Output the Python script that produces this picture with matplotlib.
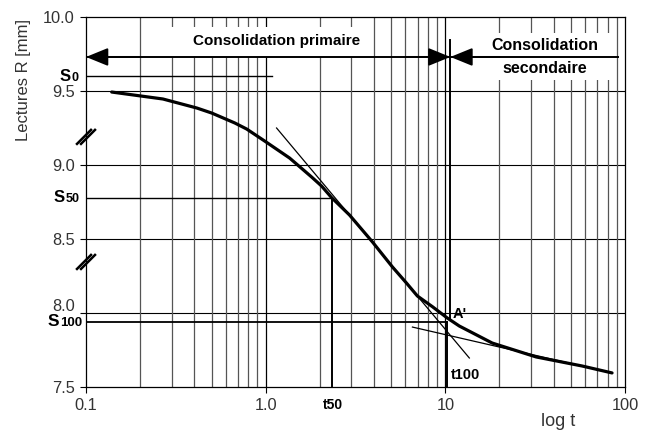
import matplotlib
matplotlib.use("Agg")
import matplotlib.pyplot as plt
import matplotlib.transforms as mtransforms
from matplotlib.patches import Rectangle

plt.rcParams['font.family'] = ['Liberation Sans', 'DejaVu Sans']

# settlement readings (time in min, reading in mm)
t_vals = [0.139, 0.268, 0.414, 0.501, 0.673, 0.784, 0.987, 1.359, 1.801,
          2.047, 2.326, 2.929, 3.93, 5.077, 6.072, 6.988, 8.467, 10.26,
          11.96, 18.24, 32.03, 57.7, 84.7]
r_vals = [9.493, 9.446, 9.385, 9.351, 9.284, 9.243, 9.162, 9.047, 8.919,
          8.858, 8.780, 8.662, 8.480, 8.311, 8.203, 8.115, 8.043, 7.966,
          7.912, 7.797, 7.703, 7.642, 7.595]

# construction lines
tan1_t = [1.15, 13.6]
tan1_r = [9.25, 7.696]
tan2_t = [6.56, 84.7]
tan2_r = [7.905, 7.595]

s0, s0_end = 9.60, 1.08
s50, t50 = 8.777, 2.33
s100, t100 = 7.94, 10.26
t_sep, sep_top, sep_bot = 10.67, 9.845, 7.966
arrow_y, arrow_end = 9.73, 91.4
breaks = [9.19, 8.345]

xticks = [0.1, 1, 10, 100]
xticklabels = ['0.1', '1.0', '10', '100']
yticks = [7.5, 8.0, 8.5, 9.0, 9.5, 10.0]
yticklabels = ['7.5', '', '8.5', '9.0', '9.5', '10.0']

fig = plt.figure(figsize=(6.45, 4.3), dpi=100)
ax = fig.add_axes([86/645, 43/430, 539/645, 370/430])

ax.set_xscale('log')
ax.set_xlim(0.1, 100)
ax.set_ylim(7.5, 10.0)

ax.set_xticks(xticks)
ax.set_xticklabels(xticklabels)
ax.set_yticks(yticks)
ax.set_yticklabels(yticklabels)
ax.tick_params(axis='both', which='major', labelsize=11.8, labelcolor='#333',
               length=4, width=0.8, pad=4)
ax.tick_params(axis='x', which='minor', length=0)

bt = mtransforms.blended_transform_factory(ax.transAxes, ax.transData)
# 8.0 label sits a little higher, above the S100 label
ax.annotate('8.0', xy=(0, 8.0), xycoords=bt, xytext=(-8, 4.5),
            textcoords='offset points', ha='right', va='center',
            fontsize=11.8, color='#333', annotation_clip=False)

# grid
for v in yticks[1:-1]:
    ax.axhline(v, color='black', lw=0.8, zorder=1)
for dec in [0.1, 1, 10]:
    for k in range(2, 10):
        ax.axvline(k*dec, color='#555', lw=0.9, zorder=1)
for v in [1, 10]:
    ax.axvline(v, color='black', lw=0.9, zorder=1)
for sp in ax.spines.values():
    sp.set_linewidth(0.9)

# white boxes behind the headings
ax.add_patch(Rectangle((0.119, 0.892), 0.40, 0.081, transform=ax.transAxes,
                       fc='white', ec='none', zorder=1.5))
ax.add_patch(Rectangle((0.735, 0.83), 0.24, 0.127, transform=ax.transAxes,
                       fc='white', ec='none', zorder=1.5))

# curve and tangents
ax.plot(t_vals, r_vals, color='black', lw=2.3, zorder=4,
        solid_capstyle='round', solid_joinstyle='round')
ax.plot(tan1_t, tan1_r, color='black', lw=0.9, zorder=4)
ax.plot(tan2_t, tan2_r, color='black', lw=0.9, zorder=4)

# S0, S50, S100 construction
ax.plot([0.1, s0_end], [s0, s0], color='black', lw=1.0, zorder=3)
ax.plot([0.1, t50], [s50, s50], color='black', lw=1.0, zorder=3)
ax.plot([t50, t50], [7.5, s50], color='black', lw=1.4, zorder=3)
ax.plot([0.1, t100], [s100, s100], color='black', lw=1.3, zorder=3)
ax.plot([t100, t100], [7.5, s100], color='black', lw=1.4, zorder=3)
ax.plot([t_sep, t_sep], [sep_bot, sep_top], color='black', lw=1.4, zorder=3)

# arrows
ax.plot([0.1, arrow_end], [arrow_y, arrow_y], color='black', lw=1.4, zorder=3)
ap = dict(arrowstyle='-|>,head_length=1.35,head_width=0.55', color='black',
          lw=1.4, shrinkA=0, shrinkB=0)
ax.annotate('', xy=(0.1, arrow_y), xytext=(0.2, arrow_y), arrowprops=ap,
            annotation_clip=False, zorder=3)
ax.annotate('', xy=(t_sep, arrow_y), xytext=(6, arrow_y), arrowprops=ap, zorder=3)
ax.annotate('', xy=(t_sep, arrow_y), xytext=(20, arrow_y), arrowprops=ap, zorder=3)

ax.text(0.353, 0.935, 'Consolidation primaire', transform=ax.transAxes,
        ha='center', va='center', fontsize=11, fontweight='bold', zorder=5)
ax.text(0.851, 0.922, 'Consolidation', transform=ax.transAxes,
        ha='center', va='center', fontsize=11.5, fontweight='bold', zorder=5)
ax.text(0.851, 0.86, 'secondaire', transform=ax.transAxes,
        ha='center', va='center', fontsize=11.5, fontweight='bold', zorder=5)

# axis break marks
px = 1/539
py = 2.5/370
for yb in breaks:
    for off in (-2.0, 2.0):
        ax.plot([(-7+off)*px, (7+off)*px], [yb-7*py, yb+7*py], color='black',
                lw=1.8, transform=bt, clip_on=False, zorder=6)

# S labels
def s_label(y, num, dx, s_size, n_size):
    t = ax.annotate(num, xy=(0, y), xycoords=bt, xytext=(dx, -1),
                    textcoords='offset points', ha='right', va='center',
                    fontsize=n_size, fontweight='bold', annotation_clip=False)
    ax.annotate('S', xy=(0, 0), xycoords=t, xytext=(-0.6, 0),
                textcoords='offset points', ha='right', va='bottom',
                fontsize=s_size, fontweight='bold', annotation_clip=False)

s_label(s0, '0', -5.5, 12, 9)
s_label(s50, '50', -4.5, 12, 9)
s_label(s100, '100', -3, 12.5, 9.5)

xt = mtransforms.blended_transform_factory(ax.transData, ax.transAxes)
ax.text(t50 * 1.02, -0.048, 't50', transform=xt, ha='center', va='center',
        fontsize=10, fontweight='bold')
ax.text(10.8, 7.58, 't100', ha='left', va='center',
        fontsize=10.5, fontweight='bold', zorder=5)
ax.text(11.0, 7.99, "A'", ha='left', va='center',
        fontsize=10.5, fontweight='bold', zorder=5)

ax.text(0.876, -0.092, 'log t', transform=ax.transAxes, ha='center',
        va='center', fontsize=13, color='#333')
fig.text(24/645, 1 - 80/430, 'Lectures R [mm]', rotation=90, ha='center',
         va='center', fontsize=12, color='#333')

fig.savefig('out.png', dpi=100)
